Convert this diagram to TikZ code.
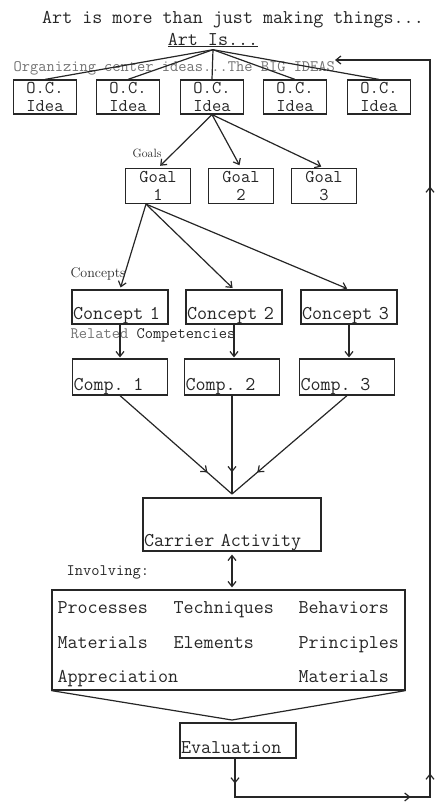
\documentclass[tikz,border=0pt]{standalone}
\usepackage{tikz}
\usetikzlibrary{arrows.meta,decorations.markings}
\definecolor{ink}{gray}{0.15}
\definecolor{faint}{gray}{0.45}
\newcommand\tyt{\ttfamily\fontsize{19.5}{16}\selectfont}
\newcommand\tyb{\ttfamily\fontsize{18}{17.5}\selectfont}
\newcommand\tys{\ttfamily\fontsize{16}{16}\selectfont}
\tikzset{
  ocbox/.style={draw, minimum width=63pt, minimum height=34pt, inner sep=0pt, align=center, font=\tyb},
  goalbox/.style={draw, minimum width=65pt, minimum height=35pt, inner sep=0pt, align=center, font=\tyb},
  lowbox/.style 2 args={draw, text width=#1, text height=#2, text depth=5pt, inner xsep=1pt, inner ysep=0pt, align=left, font=\tyt},
  lbl/.style={anchor=base west, inner sep=0pt},
  word/.style={anchor=base west, inner sep=0pt, font=\tyt},
  midarr/.style={postaction={decorate}, decoration={markings, mark=at position #1 with {\arrow{>}}}}
}

\begin{document}
\begin{tikzpicture}[x=1pt, y=-1pt, line width=1.2pt, color=ink, >={Straight Barb[length=5pt,width=8pt]}]
\useasboundingbox (0,0) rectangle (437,807);
\node[font=\tyt, anchor=base, inner sep=0pt] (head) at (233,23) {Art is more than just making things...};
\node[font=\tyt, anchor=base, inner sep=2pt] (art) at (213,45) {\underline{Art Is...}};
\node[lbl, font=\tys, text=faint] (ideas) at (13,71) {Organizing center ideas...The BIG IDEAS};
\foreach \x [count=\i] in {45,128,212,295,379}
  \node[ocbox] (oc\i) at (\x,97) {O.C.\\Idea};
\foreach \i in {1,...,5}
  \draw (art.south) -- (oc\i.north);

\node[lbl, font=\fontsize{12}{12}\selectfont] (goals) at (132,157) {Goals};
\foreach \x [count=\i] in {158,241,324}
  \node[goalbox] (g\i) at (\x,186) {Goal\\\i};
\foreach \i in {1,2,3}
  \draw[->, shorten >=3pt] (oc3.south) -- (g\i.north);

\node[lbl, font=\fontsize{14}{14}\selectfont] (conc) at (70,277) {Concepts};
\foreach \x [count=\i] in {120,234,349}
  \node[lowbox={94pt}{29pt}] (c\i) at (\x,307) {Concept \i};
\foreach \i in {1,2,3}
  \draw[->, shorten >=2pt] ([xshift=-12pt]g1.south) -- (c\i.north);

\node[lbl, font=\tys] (rel) at (70,338) {{\color{faint}Related} Competencies};
\foreach \x [count=\i] in {120,232,347}
  \node[lowbox={93pt}{31pt}] (k\i) at (\x,377) {Comp. \i};
\foreach \i in {1,2,3}
  \draw[->, shorten >=1pt] (c\i.south) -- (c\i.south |- k\i.north);

\node[lowbox={176pt}{48pt}] (car) at (232,524.5) {Carrier Activity};
\coordinate (meet) at (232,494);
\foreach \i in {1,2,3}
  \draw[midarr=0.78] (k\i.south) -- (meet);

\node[lbl, font=\tys] (invl) at (66,575) {Involving:};
\node[draw, minimum width=353pt, minimum height=100pt, inner sep=0pt] (inv) at (228.5,640) {};
\draw[<->, shorten <=3pt, shorten >=2pt] (car.south) -- (car.south |- inv.north);
\foreach \t/\x/\y/\n in {Processes/57/613/w1, Techniques/173/613/w2, Behaviors/298/613/w3,
    Materials/57/648/w4, Elements/173/648/w5, Principles/298/648/w6,
    Appreciation/57/682/w7, Materials/298/682/w8}
  \node[word] (\n) at (\x,\y) {\t};

\coordinate (fun) at (232,720);
\draw (inv.south west) -- (fun) -- (inv.south east);
\node[lowbox={114pt}{30pt}] (ev) at (238,740.5) {Evaluation};

\coordinate (lb) at (235,797);
\coordinate (rb) at (430,797);
\coordinate (rt) at (430,60);
\coordinate (fb) at (335,60);
\draw[->, postaction={decorate}, decoration={markings,
    mark=at position 25pt with {\arrow{>}}, mark=at position 214pt with {\arrow{>}},
    mark=at position 257pt with {\arrow{>}}, mark=at position 844pt with {\arrow{>}}}]
  (ev.south -| lb) -- (lb) -- (rb) -- (rt) -- (fb);
\end{tikzpicture}
\end{document}
